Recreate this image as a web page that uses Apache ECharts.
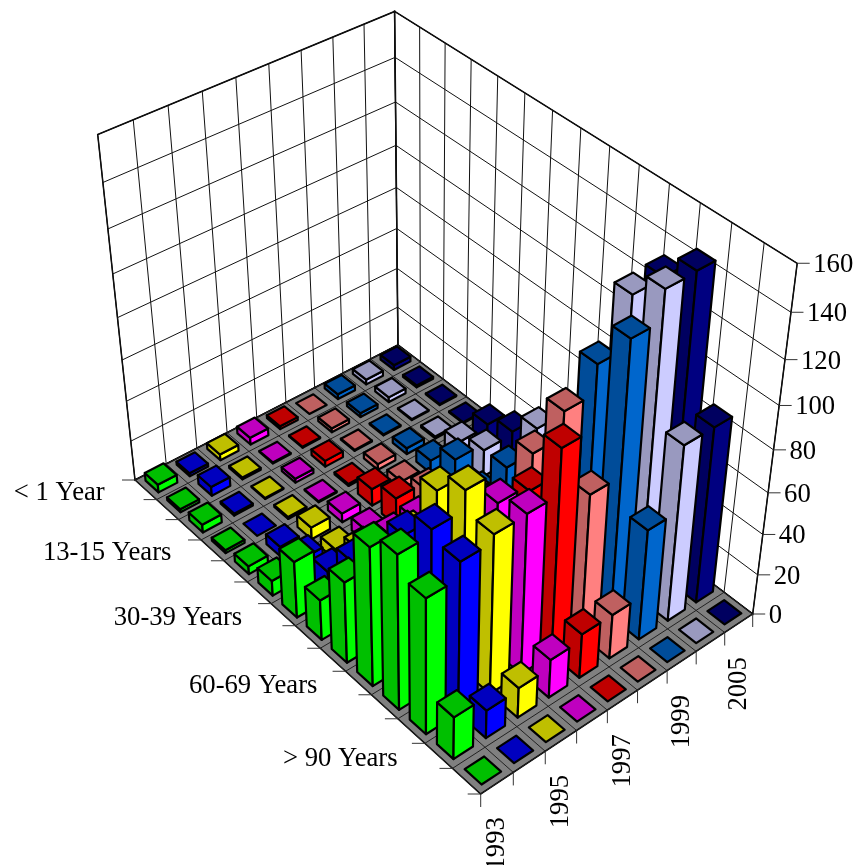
<!DOCTYPE html>
<html>
<head>
<meta charset="utf-8">
<style>html,body{margin:0;padding:0;background:#fff;overflow:hidden}#chart{width:855px;height:865px}</style>
<script src="https://cdn.jsdelivr.net/npm/echarts@6/dist/echarts.min.js"></script>
</head>
<body>
<div id="chart"></div>
<script>
const yearLabels = ['1993','1994','1995','1996','1997','1998','1999','2000','2005'];
const yearShown  = [0,2,4,6,8];
const ageLabels = ['< 1 Year','1-3 Years','4-12 Years','13-15 Years','16-19 Years','20-24 Years','30-39 Years','40-44 Years','50-59 Years','60-69 Years','70-79 Years','80-89 Years','> 90 Years','Unknown'];
const ageShown  = [0,3,6,9,12];
const zTicks = [0,20,40,60,80,100,120,140,160];
const v1993 = [4,1.5,4,1.5,4,7.5,28,20,40,67.5,75,66,21,0];
const v1994 = [1.5,4.5,1,0,5,10,14,30,45,64,77.5,73.5,14,0];
const v1995 = [3,1,0.5,1,6,5.5,16,20,45,76,86.5,77,15,0];
const v1996 = [3.5,0.5,2,0.5,4.5,6.5,14.5,33,30,66,72,77.5,19,0];
const v1997 = [1.5,0.5,3,1,8.5,14,10,14,20,40,69,98.5,22,0];
const v1998 = [0,2,0.5,3,4,10,8,20,30,68,97,69,22,0];
const v1999 = [2.5,2,0.5,3,6.5,17,10,33,40,60,110,130,54,0];
const v2000 = [2.5,2.5,0.5,1,8,13.5,12,44,30,60,132.5,143.5,85,0];
const v2005 = [2.5,1,0.5,0.5,9,15,12,30,60,80,133,144,85,0];
const yearValues = [v1993,v1994,v1995,v1996,v1997,v1998,v1999,v2000,v2005];
const brightColors = ['#00FF00','#0000FF','#FFFF00','#FF00FF','#FF0000','#FF8080','#0066CC','#CCCCFF','#000080'];
const darkColors   = ['#00BF00','#0000BF','#BFBF00','#BF00BF','#BF0000','#BF6060','#004C99','#9999BF','#000060'];
const cornerL=[135,480], cornerB=[398,345], cornerR=[752.7,614], cornerF=[480.7,794];
const topL=[98.3,136.7], topB=[394,10], topR=[797.3,262.7];
const BAR_SHARE = 0.6, Z_MAX = 160;
function camera(){
  const [x0,y0]=cornerL,[x1,y1]=cornerB,[x2,y2]=cornerR,[x3,y3]=cornerF;
  const dx1=x1-x2,dx2=x3-x2,sx=x0-x1+x2-x3,dy1=y1-y2,dy2=y3-y2,sy=y0-y1+y2-y3;
  const den=dx1*dy2-dx2*dy1;
  const g=(sx*dy2-dx2*sy)/den,h=(dx1*sy-sx*dy1)/den;
  const a=x1-x0+g*x1,b=x3-x0+h*x3,c=x0,d=y1-y0+g*y1,e=y3-y0+h*y3,f=y0;
  const base=(u,v)=>[a*u+b*v+c,d*u+e*v+f,g*u+h*v+1];
  const rows=[];
  [[0,0,topL],[1,0,topB],[1,1,topR]].forEach(([u,v,t])=>{
    const [X,Y,W]=base(u,v);
    rows.push([1,0,-t[0],t[0]*W-X]);
    rows.push([0,1,-t[1],t[1]*W-Y]);
  });
  const N=[[0,0,0],[0,0,0],[0,0,0]],m=[0,0,0];
  rows.forEach(r=>{for(let i=0;i<3;i++){m[i]+=r[i]*r[3];for(let j=0;j<3;j++)N[i][j]+=r[i]*r[j];}});
  const det=M=>M[0][0]*(M[1][1]*M[2][2]-M[1][2]*M[2][1])-M[0][1]*(M[1][0]*M[2][2]-M[1][2]*M[2][0])+M[0][2]*(M[1][0]*M[2][1]-M[1][1]*M[2][0]);
  const D=det(N),sol=[0,1,2].map(i=>det(N.map((r,ri)=>r.map((val,ci)=>ci===i?m[ri]:val)))/D);
  return (u,v,z)=>{const [X,Y,W]=base(u,v);const w=W+sol[2]*z;return [(X+sol[0]*z)/w,(Y+sol[1]*z)/w];};
}
const project=camera();
const nx=yearLabels.length, ny=ageLabels.length;
const zShare=val=>echarts.number.linearMap(val,[0,Z_MAX],[0,1]);
const LINE='#000';
const font='26.7px "Liberation Serif"';
function frameItem(params,api){
  if(params.dataIndex>0) return;
  const kids=[];
  const line=(a,b,w,c)=>kids.push({type:'line',silent:true,shape:{x1:a[0],y1:a[1],x2:b[0],y2:b[1]},style:{stroke:c||'#111',lineWidth:w||1}});
  const poly=(pts,fill,w)=>kids.push({type:'polygon',silent:true,shape:{points:pts},style:{fill:fill,stroke:LINE,lineWidth:w||1}});
  poly([project(0,0,0),project(1,0,0),project(1,0,1),project(0,0,1)],'#fff',1.5);
  poly([project(1,0,0),project(1,1,0),project(1,1,1),project(1,0,1)],'#fff',1.5);
  zTicks.forEach(t=>{
    const z=zShare(t);
    line(project(0,0,z),project(1,0,z));
    line(project(1,0,z),project(1,1,z));
  });
  for(let i=0;i<=nx;i++) line(project(i/nx,0,0),project(i/nx,0,1));
  for(let j=0;j<=ny;j++) line(project(1,j/ny,0),project(1,j/ny,1));
  poly([project(0,0,0),project(1,0,0),project(1,1,0),project(0,1,0)],'#808080',1.5);
  for(let i=0;i<=nx;i++) line(project(i/nx,0,0),project(i/nx,1,0),1,'#222');
  for(let j=0;j<=ny;j++) line(project(0,j/ny,0),project(1,j/ny,0),1,'#222');
  const text=(s,x,y,align,vAlign,rot)=>kids.push({type:'text',silent:true,x:x,y:y,rotation:rot||0,style:{text:s,font:font,fill:'#000',align:align,verticalAlign:vAlign}});
  zTicks.forEach(t=>{
    const p=project(1,1,zShare(t));
    line(p,[p[0]+12.5,p[1]],1,'#333');
    text(String(t),p[0]+16,p[1]+2,'left','middle');
  });
  for(let j=0;j<=ny;j++){const p=project(0,j/ny,0);line(p,[p[0]-13,p[1]],1,'#333');}
  ageShown.forEach(j=>{
    const p=project(0,(j+0.5)/ny,0);
    text(ageLabels[j],p[0]-41,p[1]+3,'right','middle');
  });
  for(let i=0;i<=nx;i++){const p=project(i/nx,1,0);line(p,[p[0],p[1]+13],1,'#333');}
  yearShown.forEach(i=>{
    const p=project((i+0.5)/nx,1,0);
    text(yearLabels[i],p[0],p[1]+34,'right','middle',Math.PI/2);
  });
  return {type:'group',children:kids};
}
function barItem(params,api){
  const yi=api.value(0), ri=api.value(1), val=api.value(2);
  const centre=api.coord([yi,ri]), size=api.size([1,1]);
  const W=api.getWidth(), H=api.getHeight();
  const uc=centre[0]/W, vc=centre[1]/H;
  const du=size[0]/W*BAR_SHARE/2, dv=size[1]/H*BAR_SHARE/2;
  const z=zShare(val), u0=uc-du,u1=uc+du,v0=vc-dv,v1=vc+dv;
  const dark=darkColors[yi], bright=brightColors[yi];
  const poly=(pts,fill)=>({type:'polygon',silent:true,shape:{points:pts},style:{fill:fill,stroke:LINE,lineWidth:2.2,lineJoin:'round'}});
  const kids=[];
  if(val>0){
    kids.push(poly([project(u0,v0,0),project(u0,v1,0),project(u0,v1,z),project(u0,v0,z)],dark));
    kids.push(poly([project(u0,v1,0),project(u1,v1,0),project(u1,v1,z),project(u0,v1,z)],bright));
  }
  kids.push(poly([project(u0,v0,z),project(u1,v0,z),project(u1,v1,z),project(u0,v1,z)],dark));
  return {type:'group',children:kids};
}
const cells=[];
for(let y=nx-1;y>=0;y--) for(let r=0;r<ny;r++) cells.push([y,r,yearValues[y][r]]);
const chart=echarts.init(document.getElementById('chart'));
chart.setOption({
  animation:false,
  backgroundColor:'#fff',
  grid:{left:0,right:0,top:0,bottom:0},
  xAxis:{type:'category',data:yearLabels,show:false},
  yAxis:{type:'category',data:ageLabels,show:false,inverse:true},
  series:[
    {type:'custom',name:'frame',coordinateSystem:'none',silent:true,data:[[0]],renderItem:frameItem,z:1},
    {type:'custom',name:'patients',coordinateSystem:'cartesian2d',silent:true,clip:false,encode:{x:0,y:1},data:cells,renderItem:barItem,z:2}
  ]
});
</script>
</body>
</html>
